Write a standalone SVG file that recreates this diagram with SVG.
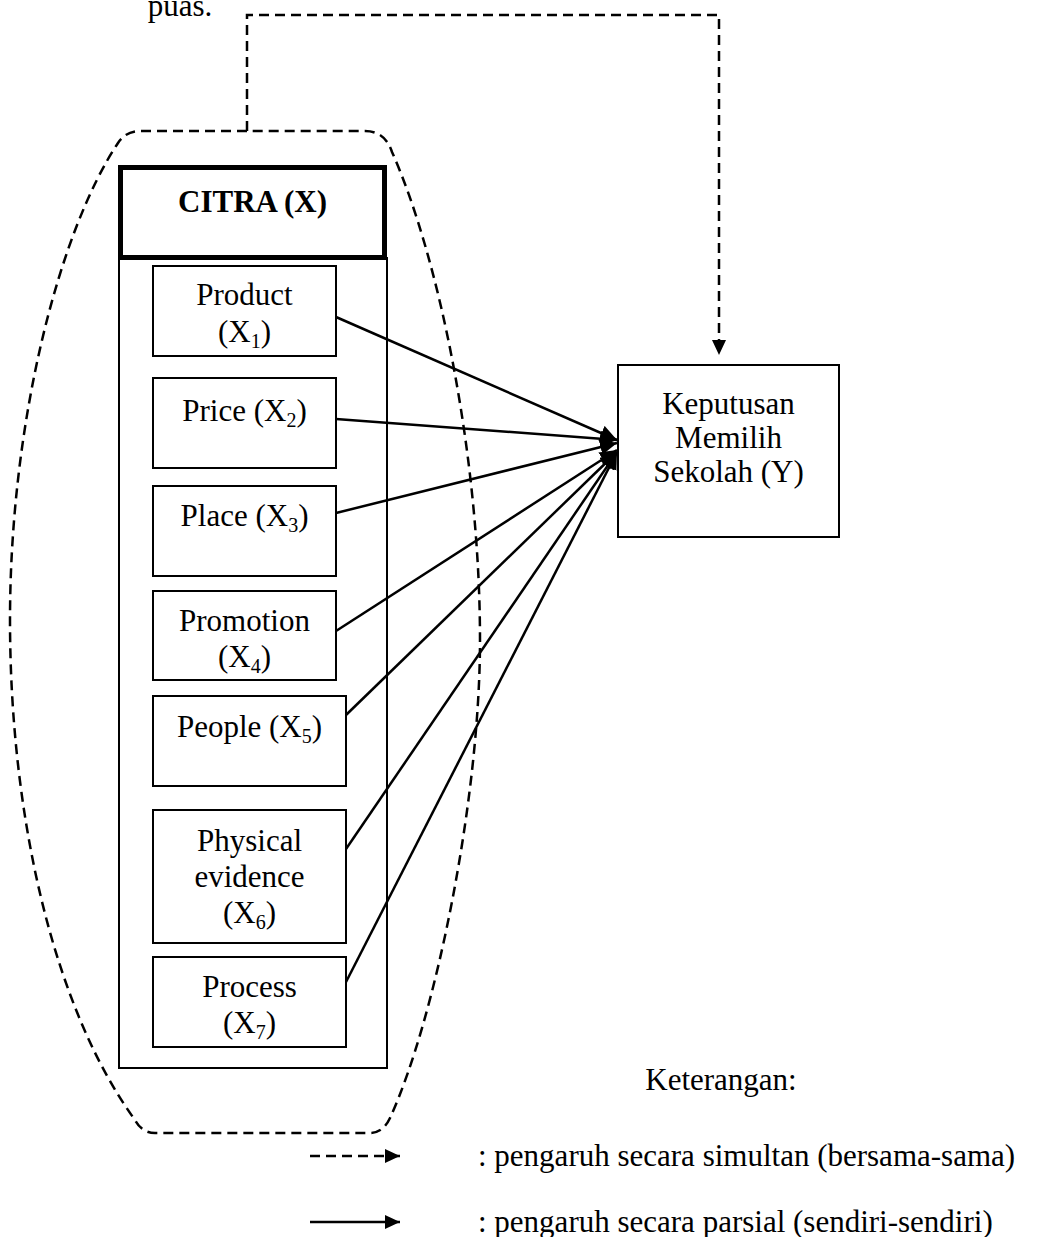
<svg xmlns="http://www.w3.org/2000/svg" width="1039" height="1237" viewBox="0 0 1039 1237">
<style>
text{font-family:"Liberation Serif","Times New Roman",serif;font-size:31px;fill:#000;text-anchor:middle}
.box{fill:#fff;stroke:#000;stroke-width:2}
.dash{fill:none;stroke:#000;stroke-width:2.5;stroke-dasharray:10,6}
.solid{fill:none;stroke:#000;stroke-width:2.5}
.sub{font-size:20px}
</style>
<defs>
<marker id="ah" markerUnits="userSpaceOnUse" markerWidth="16" markerHeight="14" viewBox="0 0 16 14" refX="15" refY="7" orient="auto">
<path d="M0,0 L15,7 L0,14 Z" fill="#000"/>
</marker>
<marker id="ahb" markerUnits="userSpaceOnUse" markerWidth="18" markerHeight="16" viewBox="0 0 18 16" refX="17" refY="8" orient="auto">
<path d="M0,0 L17,8 L0,16 Z" fill="#000"/>
</marker>
</defs>
<rect width="1039" height="1237" fill="#fff"/>
<text x="180" y="16">puas.</text>
<g id="group-outline">
<path class="dash" d="M247,131 H140 Q126,131 118,143 C60,230 10,420 10,620 C10,820 55,1010 135,1120 Q142,1133 155,1133 H370 Q383,1133 390,1118 C435,1020 480,800 480,640 C480,460 440,260 392,152 Q385,131 365,131 Z"/>
</g>
<g id="container">
<rect class="box" x="119" y="258" width="268" height="810"/>
</g>
<g id="citra">
<rect x="120.5" y="167.5" width="264" height="90" fill="#fff" stroke="#000" stroke-width="5"/>
<text x="252.5" y="212" font-weight="bold">CITRA (X)</text>
</g>
<g id="product">
<rect class="box" x="153" y="266" width="183" height="90"/>
<text x="244.5" y="305">Product</text>
<text x="244.5" y="342">(X<tspan class="sub" dy="6">1</tspan><tspan dy="-6">)</tspan></text>
</g>
<g id="price">
<rect class="box" x="153" y="378" width="183" height="90"/>
<text x="244.5" y="421">Price (X<tspan class="sub" dy="6">2</tspan><tspan dy="-6">)</tspan></text>
</g>
<g id="place">
<rect class="box" x="153" y="486" width="183" height="90"/>
<text x="244.5" y="526">Place (X<tspan class="sub" dy="6">3</tspan><tspan dy="-6">)</tspan></text>
</g>
<g id="promotion">
<rect class="box" x="153" y="591" width="183" height="89"/>
<text x="244.5" y="631">Promotion</text>
<text x="244.5" y="667">(X<tspan class="sub" dy="6">4</tspan><tspan dy="-6">)</tspan></text>
</g>
<g id="people">
<rect class="box" x="153" y="696" width="193" height="90"/>
<text x="249.5" y="737">People (X<tspan class="sub" dy="6">5</tspan><tspan dy="-6">)</tspan></text>
</g>
<g id="physical">
<rect class="box" x="153" y="810" width="193" height="133"/>
<text x="249.5" y="851">Physical</text>
<text x="249.5" y="887">evidence</text>
<text x="249.5" y="923">(X<tspan class="sub" dy="6">6</tspan><tspan dy="-6">)</tspan></text>
</g>
<g id="process">
<rect class="box" x="153" y="957" width="193" height="90"/>
<text x="249.5" y="997">Process</text>
<text x="249.5" y="1033">(X<tspan class="sub" dy="6">7</tspan><tspan dy="-6">)</tspan></text>
</g>
<g id="keputusan">
<rect class="box" x="618" y="365" width="221" height="172"/>
<text x="728.5" y="414">Keputusan</text>
<text x="728.5" y="448">Memilih</text>
<text x="728.5" y="482">Sekolah (Y)</text>
</g>
<g id="connectors">
<path class="dash" d="M247,131 V15 H719 V355" marker-end="url(#ah)"/>
<line class="solid" x1="336" y1="317" x2="617" y2="440" marker-end="url(#ahb)"/>
<line class="solid" x1="336" y1="419" x2="617" y2="440" marker-end="url(#ahb)"/>
<line class="solid" x1="336" y1="513" x2="617" y2="443" marker-end="url(#ahb)"/>
<line class="solid" x1="336" y1="631" x2="617" y2="450" marker-end="url(#ahb)"/>
<line class="solid" x1="346" y1="715" x2="617" y2="452" marker-end="url(#ahb)"/>
<line class="solid" x1="346" y1="849" x2="617" y2="452" marker-end="url(#ahb)"/>
<line class="solid" x1="346" y1="982" x2="617" y2="452" marker-end="url(#ahb)"/>
</g>
<g id="legend">
<text x="721" y="1090">Keterangan:</text>
<line class="dash" x1="310" y1="1156" x2="400" y2="1156" marker-end="url(#ah)"/>
<text x="478" y="1166" style="text-anchor:start">: pengaruh secara simultan (bersama-sama)</text>
<line class="solid" x1="310" y1="1222" x2="400" y2="1222" marker-end="url(#ah)"/>
<text x="478" y="1232" style="text-anchor:start">: pengaruh secara parsial (sendiri-sendiri)</text>
</g>
</svg>
